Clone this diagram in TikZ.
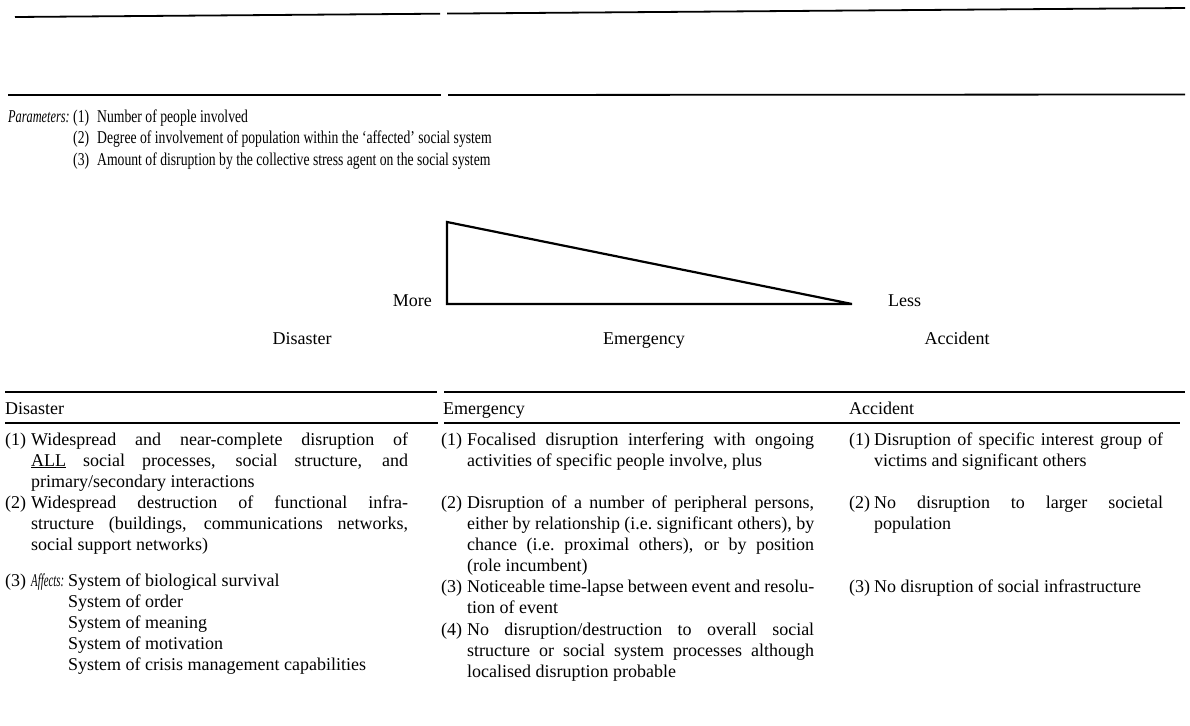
\documentclass[tikz,border=0pt]{standalone}
\usepackage{fontspec}
\usepackage{graphicx}
\setmainfont{Liberation Serif}
\newfontfamily\parmfont[FakeStretch=0.76,Ligatures=TeX]{Liberation Serif}

% body text: 18pt on a 21pt baseline grid (strut height 14.7pt)
\newcommand\bodysize{\fontsize{18}{21}\selectfont}
% condensed setting for the parameter list
\newcommand\parmsize{\parmfont\fontsize{18}{21.5}\selectfont}
% width of the paragraph being set
\newlength\colw
% one justified line of a column paragraph (spaces free to stretch),
% and a paragraph's last line
\newcommand\jline[1]{\begingroup\spaceskip=0pt\xspaceskip=0pt
  \makebox[\colw][s]{\strut#1}\endgroup\par}
\newcommand\eline[1]{\makebox[\colw][l]{\strut#1}\par}
% narrow italic run-in labels
\newcommand\runin[2]{\scalebox{#1}[1]{\itshape #2}}

\begin{document}
\begin{tikzpicture}[x=1pt,y=-1pt,
  rule/.style={line width=1.8pt},
  tri/.style={line width=2.2pt, line join=miter},
  txt/.style={anchor=base west, inner sep=0pt, font=\bodysize},
  ptxt/.style={anchor=base west, inner sep=0pt, font=\parmsize},
  lbl/.style={anchor=base, inner sep=0pt, font=\bodysize},
  para/.style={anchor=north west, inner sep=0pt, text width=#1,
    align=justify, font=\bodysize\parindent0pt\parskip0pt}]

\fill[white] (0,0) rectangle (1190,725);
\useasboundingbox (0,0) rectangle (1190,725);

% ---- rules at the head of the page ----
\draw[rule] (15,17) -- (440,13.7);
\draw[rule] (447,13.6) -- (1185,8);
\draw[rule] (8,95) -- (441,95);
\draw[rule] (448,95) -- (1185,94.5);

% ---- parameters ----
\node[ptxt] (plabel) at (8,122) {\scalebox{0.9}[1]{\itshape Parameters:}};
\node[ptxt] (pn1) at (73,122) {(1)};
\node[ptxt] (pt1) at (97,122) {Number of people involved};
\node[ptxt] (pn2) at (73,143.5) {(2)};
\node[ptxt] (pt2) at (97,143.5) {Degree of involvement of population within the ‘affected’ social system};
\node[ptxt] (pn3) at (73,165) {(3)};
\node[ptxt] (pt3) at (97,165) {Amount of disruption by the collective stress agent on the social system};

% ---- scale triangle ----
\coordinate (ttop) at (447,222);
\coordinate (tbot) at (447,304);
\coordinate (ttip) at (852,304);
\draw[tri] (ttop) -- (tbot) -- (ttip) -- cycle;
\node[txt, anchor=base east] (more) at (432,306) {More};
\node[txt] (less) at (888,306) {Less};

\node[lbl] (sdis) at (302,344) {Disaster};
\node[lbl] (seme) at (644,344) {Emergency};
\node[lbl] (sacc) at (957,344) {Accident};

% ---- table rules ----
\draw[rule] (5,392) -- (437,392);
\draw[rule] (444,392) -- (1185,392);
\draw[rule] (5,423) -- (438,423);
\draw[rule] (444,423) -- (1180,423);

% ---- table headings ----
\node[txt] (hdis) at (5,414) {Disaster};
\node[txt] (heme) at (443,414) {Emergency};
\node[txt] (hacc) at (849,414) {Accident};

% ---- Disaster column ----
\node[txt] (d1n) at (5,445) {(1)};
\node[para=377pt] (d1) at (31,430.3) {\setlength\colw{377pt}%
  \jline{Widespread and near-complete disruption of}
  \jline{\underline{ALL} social processes, social structure, and}
  \eline{primary/secondary interactions}};
\node[txt] (d2n) at (5,508) {(2)};
\node[para=377pt] (d2) at (31,493.3) {\setlength\colw{377pt}%
  \jline{Widespread destruction of functional infra-}
  \jline{structure (buildings, communications networks,}
  \eline{social support networks)}};
\node[txt] (d3n) at (5,586) {(3)};
\node[txt] (d3a) at (31,586) {\runin{0.6}{Affects:}};
\node[para=320pt] (d3) at (68,571.3) {\setlength\colw{320pt}%
  \eline{System of biological survival}
  \eline{System of order}
  \eline{System of meaning}
  \eline{System of motivation}
  \eline{System of crisis management capabilities}};

% ---- Emergency column ----
\node[txt] (e1n) at (441,445) {(1)};
\node[para=347pt] (e1) at (467,430.3) {\setlength\colw{347pt}%
  \jline{Focalised disruption interfering with ongoing}
  \eline{activities of specific people involve, plus}};
\node[txt] (e2n) at (441,508) {(2)};
\node[para=347pt] (e2) at (467,493.3) {\setlength\colw{347pt}%
  \jline{Disruption of a number of peripheral persons,}
  \jline{either by relationship (i.e.\ significant others), by}
  \jline{chance (i.e.\ proximal others), or by position}
  \eline{(role incumbent)}};
\node[txt] (e3n) at (441,592) {(3)};
\node[para=347pt] (e3) at (467,577.3) {\setlength\colw{347pt}%
  \jline{Noticeable time-lapse between event and resolu-}
  \eline{tion of event}};
\node[txt] (e4n) at (441,635) {(4)};
\node[para=347pt] (e4) at (467,620.3) {\setlength\colw{347pt}%
  \jline{No disruption/destruction to overall social}
  \jline{structure or social system processes although}
  \eline{localised disruption probable}};

% ---- Accident column ----
\node[txt] (a1n) at (849,445) {(1)};
\node[para=289pt] (a1) at (874,430.3) {\setlength\colw{289pt}%
  \jline{Disruption of specific interest group of}
  \eline{victims and significant others}};
\node[txt] (a2n) at (849,508) {(2)};
\node[para=289pt] (a2) at (874,493.3) {\setlength\colw{289pt}%
  \jline{No disruption to larger societal}
  \eline{population}};
\node[txt] (a3n) at (849,592) {(3)};
\node[txt] (a3) at (874,592) {No disruption of social infrastructure};

\end{tikzpicture}
\end{document}
